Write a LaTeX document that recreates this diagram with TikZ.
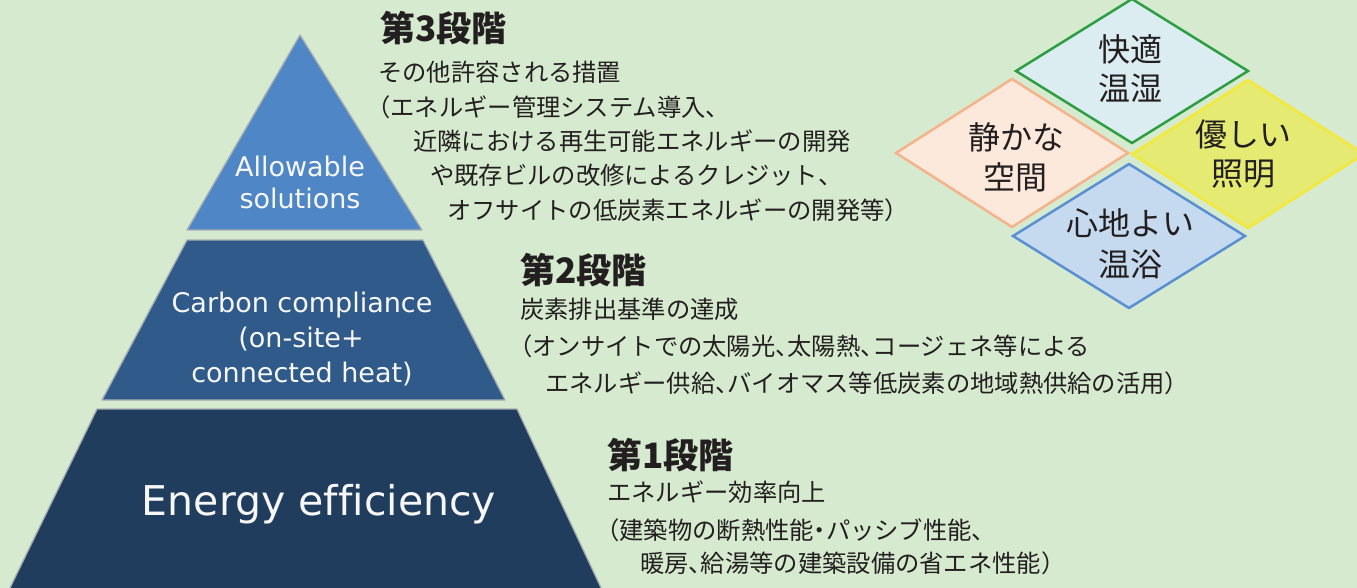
\documentclass[tikz,border=0pt]{standalone}
\usepackage{fontspec}
\newfontfamily\jp{Noto Sans CJK JP}
\newfontfamily\vd[Ligatures=NoCommon]{DejaVu Sans}
\newcommand{\tou}{\makebox[0.5em][l]{、}}
\newcommand{\nakag}{\makebox[0.5em][c]{・}}
\definecolor{bg}{HTML}{D6EACF}
\definecolor{ink}{HTML}{231F20}
\definecolor{pyA}{HTML}{4F86C6}
\definecolor{pyB}{HTML}{2F5A8A}
\definecolor{pyC}{HTML}{213D5E}
\definecolor{pyedge}{HTML}{A8ADB3}
\definecolor{gEdge}{HTML}{2E9E44}
\definecolor{gFill}{HTML}{DCEDF2}
\definecolor{oEdge}{HTML}{F5B38C}
\definecolor{oFill}{HTML}{FCE9DC}
\definecolor{yEdge}{HTML}{F2E93A}
\definecolor{yFill}{HTML}{E5EA73}
\definecolor{bEdge}{HTML}{5A8FD2}
\definecolor{bFill}{HTML}{C6DAEF}
\begin{document}
\begin{tikzpicture}[x=1pt,y=-1pt,
  layer/.style={draw=pyedge, line width=1.3pt, line join=round},
  dia/.style={line width=2.5pt, line join=miter},
  ptext/.style={font=\vd\fontsize{27}{32}\selectfont, text=white!94!gray, anchor=base, inner sep=0},
  jphead/.style={font=\jp\bfseries\fontsize{35}{40}\selectfont, text=ink, anchor=base west, inner sep=0},
  jpbody/.style={font=\jp\fontsize{24.3}{28}\selectfont, text=ink, anchor=base west, inner sep=0},
  dtext/.style={font=\jp\fontsize{32}{38}\selectfont, text=ink, anchor=center, inner sep=0}]
\useasboundingbox (0,0) rectangle (1357,588);
\clip (0,0) rectangle (1357,588);
\fill[bg] (0,0) rectangle (1357,588);

% pyramid
\draw[layer, fill=pyA] (300,35) -- (422,230) -- (187,230) -- cycle;
\draw[layer, fill=pyB] (187,240) -- (423,240) -- (505,400) -- (102,400) -- cycle;
\draw[layer, fill=pyC] (97,409) -- (517,409) -- (603,592) -- (8,592) -- cycle;

\node[ptext] (al1) at (300,177) {Allowable};
\node[ptext] (al2) at (300,208) {solutions};
\node[ptext] (cc1) at (302,312) {Carbon compliance};
\node[ptext] (cc2) at (301,347) {(on-site+};
\node[ptext] (cc3) at (302,382) {connected heat)};
\node[ptext, font=\vd\fontsize{41}{48}\selectfont] (ee) at (319,515) {Energy efficiency};

% stage 3
\node[jphead] (h3) at (380,42) {第3段階};
\node[jpbody] (l3a) at (378,82) {その他許容される措置};
\node[jpbody] (l3b) at (366,117) {（エネルギー管理システム導入\tou};
\node[jpbody] (l3c) at (413,151) {近隣における再生可能エネルギーの開発};
\node[jpbody] (l3d) at (430,185) {や既存ビルの改修によるクレジット\tou};
\node[jpbody] (l3e) at (447,219) {オフサイトの低炭素エネルギーの開発等）};

% stage 2
\node[jphead] (h2) at (520,283) {第2段階};
\node[jpbody] (l2a) at (520,318) {炭素排出基準の達成};
\node[jpbody] (l2b) at (508,355) {（オンサイトでの太陽光\tou 太陽熱\tou コージェネ等による};
\node[jpbody] (l2c) at (545,392) {エネルギー供給\tou バイオマス等低炭素の地域熱供給の活用）};

% stage 1
\node[jphead] (h1) at (607,468) {第1段階};
\node[jpbody] (l1a) at (607,501) {エネルギー効率向上};
\node[jpbody] (l1b) at (595,539) {（建築物の断熱性能\nakag パッシブ性能\tou};
\node[jpbody] (l1c) at (640,572) {暖房\tou 給湯等の建築設備の省エネ性能）};

% diamonds
\draw[dia, draw=gEdge, fill=gFill] (1132,-1) -- (1248,71) -- (1132,143) -- (1016,71) -- cycle;
\draw[dia, draw=oEdge, fill=oFill] (1012,79) -- (1128,153) -- (1012,227) -- (896,153) -- cycle;
\draw[dia, draw=yEdge, fill=yFill] (1248,80) -- (1364,154) -- (1248,228) -- (1132,154) -- cycle;
\draw[dia, draw=bEdge, fill=bFill] (1129,164) -- (1245,236) -- (1129,308) -- (1013,236) -- cycle;

\node[dtext] (d1a) at (1130,49) {快適};
\node[dtext] (d1b) at (1130,88) {温湿};
\node[dtext] (d2a) at (1016,137) {静かな};
\node[dtext] (d2b) at (1015,177) {空間};
\node[dtext] (d3a) at (1243,134) {優しい};
\node[dtext] (d3b) at (1243,174) {照明};
\node[dtext] (d4a) at (1130,223) {心地よい};
\node[dtext] (d4b) at (1130,264) {温浴};
\end{tikzpicture}
\end{document}
